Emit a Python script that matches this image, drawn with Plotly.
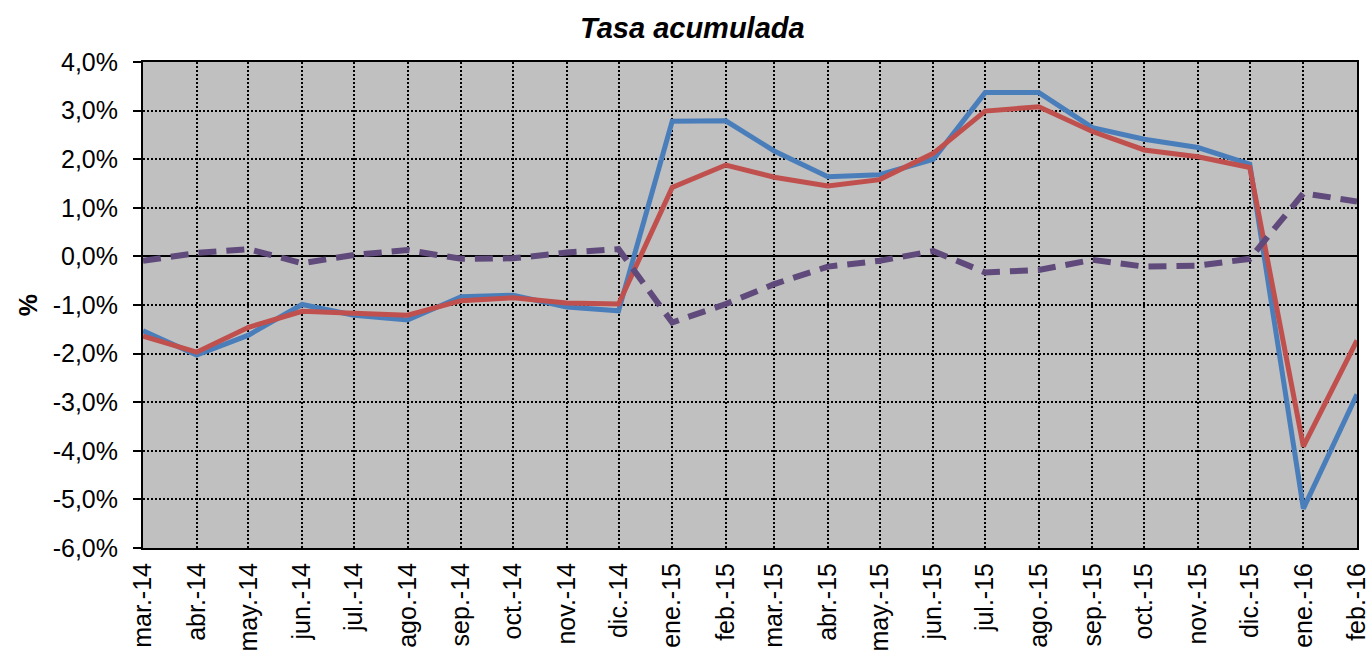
import plotly.graph_objects as go

# months (first day of each month) and their labels
fechas = ["2014-03-01", "2014-04-01", "2014-05-01", "2014-06-01", "2014-07-01", "2014-08-01",
          "2014-09-01", "2014-10-01", "2014-11-01", "2014-12-01", "2015-01-01", "2015-02-01",
          "2015-03-01", "2015-04-01", "2015-05-01", "2015-06-01", "2015-07-01", "2015-08-01",
          "2015-09-01", "2015-10-01", "2015-11-01", "2015-12-01", "2016-01-01", "2016-02-01"]
meses = ["mar.-14", "abr.-14", "may.-14", "jun.-14", "jul.-14", "ago.-14",
         "sep.-14", "oct.-14", "nov.-14", "dic.-14", "ene.-15", "feb.-15",
         "mar.-15", "abr.-15", "may.-15", "jun.-15", "jul.-15", "ago.-15",
         "sep.-15", "oct.-15", "nov.-15", "dic.-15", "ene.-16", "feb.-16"]

serie_azul = [-1.53, -2.03, -1.62, -0.99, -1.21, -1.31, -0.83, -0.80, -1.04, -1.12, 2.78, 2.79,
              2.17, 1.64, 1.68, 2.00, 3.37, 3.37, 2.65, 2.41, 2.24, 1.90, -5.19, -2.84]
serie_roja = [-1.64, -1.97, -1.46, -1.13, -1.17, -1.21, -0.91, -0.85, -0.96, -0.98, 1.42, 1.88,
              1.63, 1.45, 1.58, 2.12, 2.99, 3.08, 2.57, 2.19, 2.05, 1.83, -3.91, -1.73]
serie_dif = [-0.09, 0.07, 0.15, -0.14, 0.03, 0.13, -0.05, -0.04, 0.08, 0.15, -1.36, -0.98,
             -0.57, -0.21, -0.09, 0.11, -0.33, -0.28, -0.07, -0.21, -0.19, -0.05, 1.30, 1.13]

y_ticks = [4, 3, 2, 1, 0, -1, -2, -3, -4, -5, -6]
y_labels = ["4,0%", "3,0%", "2,0%", "1,0%", "0,0%", "-1,0%", "-2,0%", "-3,0%", "-4,0%", "-5,0%", "-6,0%"]

fig = go.Figure()
fig.add_trace(go.Scatter(x=fechas, y=serie_azul, mode="lines",
                         line=dict(color="#4A7EBB", width=5)))
fig.add_trace(go.Scatter(x=fechas, y=serie_roja, mode="lines",
                         line=dict(color="#C0504D", width=5)))
fig.add_trace(go.Scatter(x=fechas, y=serie_dif, mode="lines",
                         line=dict(color="#604A7B", width=6, dash="18px,10px")))

fig.update_layout(
    width=1371, height=657,
    showlegend=False,
    paper_bgcolor="white",
    plot_bgcolor="#C0C0C0",
    font=dict(family="Liberation Sans, Arial", size=25, color="black"),
    title=dict(text="<b><i>Tasa acumulada</i></b>", x=0.505, xanchor="center",
               y=0.958, yanchor="middle", font=dict(size=29)),
    margin=dict(l=143, r=14, t=62, b=109),
)

fig.update_xaxes(
    type="date",
    range=["2014-03-01", "2016-02-01"],
    tickvals=fechas, ticktext=meses,
    tickangle=-90,
    showgrid=True, gridcolor="black", griddash="2px,2px", gridwidth=2,
    showline=True, linecolor="black", linewidth=2, mirror=True,
    ticks="", ticklabelstandoff=3, automargin=False,
)
fig.update_yaxes(
    range=[-6, 4],
    tickvals=y_ticks, ticktext=y_labels,
    showgrid=True, gridcolor="black", griddash="2px,2px", gridwidth=2,
    zeroline=True, zerolinecolor="black", zerolinewidth=2,
    showline=True, linecolor="black", linewidth=2, mirror=True,
    ticks="outside", ticklen=8, tickcolor="black", tickwidth=2,
    ticklabelstandoff=10, automargin=False,
    title=dict(text="<b>%</b>", standoff=8, font=dict(size=25)),
)

# page body margin off so the figure sits at the window's corner
fig.write_html("out.html", config={"displayModeBar": False},
               post_script="document.body.style.margin='0';")
